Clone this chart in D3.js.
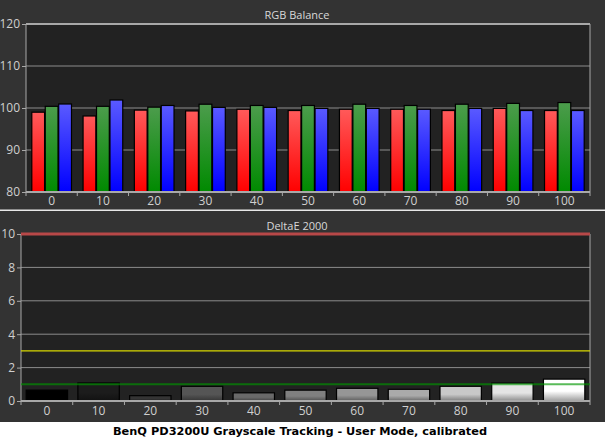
<!DOCTYPE html>
<html><head><meta charset="utf-8">
<script src="https://cdn.jsdelivr.net/npm/d3@7"></script>
<style>html,body{margin:0;padding:0;background:#fff;}svg{display:block;}</style>
</head><body>
<svg id="c" width="605" height="441"></svg>
<script>
const categories = ["0","10","20","30","40","50","60","70","80","90","100"];
const redValues   = [99.0, 98.1, 99.5, 99.3, 99.7, 99.4, 99.7, 99.7, 99.4, 99.9, 99.4];
const greenValues = [100.4, 100.4, 100.2, 100.9, 100.6, 100.6, 100.9, 100.6, 100.9, 101.1, 101.3];
const blueValues  = [100.95, 101.9, 100.6, 100.15, 100.15, 99.9, 99.9, 99.7, 99.9, 99.4, 99.4];
const rgbTicks = [80, 90, 100, 110, 120];
const deltaE = [0.65, 1.08, 0.32, 0.88, 0.49, 0.65, 0.76, 0.70, 0.88, 1.07, 1.31];
const deTicks = [0, 2, 4, 6, 8, 10];
const grayLevels = [0, 28, 52, 85, 105, 128, 150, 170, 200, 228, 255];
const refLines = [{v: 10, c: "#b84848", w: 3}, {v: 3, c: "#d8d800", w: 1.2}, {v: 1, c: "rgba(0,150,0,0.65)", w: 2}];

const svg = d3.select("#c");
const font = "'Open Sans', 'DejaVu Sans', sans-serif";

// backgrounds
svg.append("rect").attr("x",0).attr("y",0).attr("width",605).attr("height",422).attr("fill","#333333");
svg.append("rect").attr("x",0).attr("y",209.5).attr("width",605).attr("height",1.5).attr("fill","#e8e8e8");
svg.append("rect").attr("x",0).attr("y",422).attr("width",605).attr("height",19).attr("fill","#ffffff");

const defs = svg.append("defs");
function grad(id, top, bottom, mid) {
  const g = defs.append("linearGradient").attr("id", id).attr("x1",0).attr("y1",0).attr("x2",0).attr("y2",1);
  g.append("stop").attr("offset","0%").attr("stop-color", top);
  if (mid) g.append("stop").attr("offset","55%").attr("stop-color", mid);
  g.append("stop").attr("offset","100%").attr("stop-color", bottom);
}
grad("gR", "#ff5a5a", "#ff0000");
grad("gG", "#4c9c4c", "#008a00");
grad("gB", "#5a5aff", "#0000ff");

// ---------- Top chart ----------
const t = {l: 26, r: 590, t: 24, b: 192};
const x1 = d3.scaleBand().domain(categories).range([t.l, t.r]).paddingInner(0.2).paddingOuter(0.1);
const xs = d3.scaleBand().domain(["r","g","b"]).range([0, x1.bandwidth()]).padding(0.05);
const y1 = d3.scaleLinear().domain([80, 120]).range([t.b, t.t]);

svg.append("rect").attr("x", t.l).attr("y", t.t).attr("width", t.r - t.l).attr("height", t.b - t.t).attr("fill", "#222222");
svg.append("g").selectAll("line").data(rgbTicks.filter(d => d > 80 && d < 120)).join("line")
  .attr("x1", t.l).attr("x2", t.r).attr("y1", d => y1(d)).attr("y2", d => y1(d))
  .attr("stroke", "#8c8c8c").attr("stroke-width", 1);

const series = [{k:"r", v: redValues, f:"url(#gR)"}, {k:"g", v: greenValues, f:"url(#gG)"}, {k:"b", v: blueValues, f:"url(#gB)"}];
series.forEach(s => {
  svg.append("g").selectAll("rect").data(categories).join("rect")
    .attr("x", (d) => x1(d) + xs(s.k))
    .attr("width", xs.bandwidth())
    .attr("y", (d, i) => y1(s.v[i]))
    .attr("height", (d, i) => y1(80) - y1(s.v[i]))
    .attr("fill", s.f).attr("stroke", "#000").attr("stroke-width", 1.2);
});

// frame
svg.append("line").attr("x1", t.l).attr("x2", t.r).attr("y1", t.t).attr("y2", t.t).attr("stroke", "#a8a8a8").attr("stroke-width", 2);
svg.append("line").attr("x1", t.r).attr("x2", t.r).attr("y1", t.t).attr("y2", t.b).attr("stroke", "#a8a8a8").attr("stroke-width", 1);
svg.append("line").attr("x1", t.l).attr("x2", t.l).attr("y1", t.t).attr("y2", t.b).attr("stroke", "#a8a8a8").attr("stroke-width", 1);
svg.append("line").attr("x1", t.l).attr("x2", t.r).attr("y1", t.b).attr("y2", t.b).attr("stroke", "#a8a8a8").attr("stroke-width", 2);

// y axis
const yAx1 = svg.append("g").attr("transform", `translate(${t.l},0)`)
  .call(d3.axisLeft(y1).tickValues(rgbTicks).tickSize(4).tickPadding(2));
yAx1.select(".domain").remove();
yAx1.selectAll("line").attr("stroke", "#a8a8a8");
yAx1.selectAll("text").attr("fill", "#cfcfcf").style("font-family", font).style("font-size", "12px");

// x ticks (boundaries) and labels
const bounds1 = d3.range(categories.length + 1).map(i => t.l + i * x1.step() - (i === 0 ? 0 : x1.step()*0 ));
const step1 = (t.r - t.l) / categories.length;
svg.append("g").selectAll("line").data(d3.range(categories.length + 1)).join("line")
  .attr("x1", i => t.l + i * step1).attr("x2", i => t.l + i * step1)
  .attr("y1", t.b).attr("y2", t.b + 4).attr("stroke", "#a8a8a8");
svg.append("g").selectAll("text").data(categories).join("text")
  .attr("x", d => x1(d) + x1.bandwidth() / 2).attr("y", 205)
  .attr("text-anchor", "middle").attr("fill", "#cfcfcf")
  .style("font-family", font).style("font-size", "12px").text(d => d);

svg.append("text").attr("x", 297).attr("y", 19).attr("text-anchor", "middle")
  .attr("fill", "#d8d8d8").style("font-family", font).style("font-size", "11px").text("RGB Balance");

// ---------- Bottom chart ----------
const b = {l: 21, r: 590, t: 234, b: 401};
const x2 = d3.scaleBand().domain(categories).range([b.l, b.r]).paddingInner(0.2).paddingOuter(0.1);
const y2 = d3.scaleLinear().domain([0, 10]).range([b.b, b.t]);

svg.append("rect").attr("x", b.l).attr("y", b.t).attr("width", b.r - b.l).attr("height", b.b - b.t).attr("fill", "#222222");
svg.append("g").selectAll("line").data(deTicks.filter(d => d > 0 && d < 10)).join("line")
  .attr("x1", b.l).attr("x2", b.r).attr("y1", d => y2(d)).attr("y2", d => y2(d))
  .attr("stroke", "#8c8c8c").attr("stroke-width", 1);

grayLevels.forEach((g, i) => {
  const c = d3.rgb(g, g, g);
  const mid = d3.rgb(g, g, g);
  const bot = d3.rgb(g * 0.62, g * 0.62, g * 0.62);
  grad("gy" + i, c.formatHex(), bot.formatHex(), mid.formatHex());
});
svg.append("g").selectAll("rect").data(categories).join("rect")
  .attr("x", d => x2(d)).attr("width", x2.bandwidth())
  .attr("y", (d, i) => y2(deltaE[i]))
  .attr("height", (d, i) => y2(0) - y2(deltaE[i]))
  .attr("fill", (d, i) => `url(#gy${i})`).attr("stroke", "#000").attr("stroke-width", 1.2);

svg.append("line").attr("x1", b.r).attr("x2", b.r).attr("y1", b.t).attr("y2", b.b).attr("stroke", "#a8a8a8").attr("stroke-width", 1);
svg.append("line").attr("x1", b.l).attr("x2", b.l).attr("y1", b.t).attr("y2", b.b).attr("stroke", "#a8a8a8").attr("stroke-width", 1);
svg.append("line").attr("x1", b.l).attr("x2", b.r).attr("y1", b.b).attr("y2", b.b).attr("stroke", "#a8a8a8").attr("stroke-width", 2);

svg.append("g").selectAll("line").data(refLines).join("line")
  .attr("x1", b.l).attr("x2", b.r).attr("y1", d => y2(d.v)).attr("y2", d => y2(d.v))
  .attr("stroke", d => d.c).attr("stroke-width", d => d.w);

const yAx2 = svg.append("g").attr("transform", `translate(${b.l},0)`)
  .call(d3.axisLeft(y2).tickValues(deTicks).tickSize(4).tickPadding(2));
yAx2.select(".domain").remove();
yAx2.selectAll("line").attr("stroke", "#a8a8a8");
yAx2.selectAll("text").attr("fill", "#cfcfcf").style("font-family", font).style("font-size", "12px");

const step2 = (b.r - b.l) / categories.length;
svg.append("g").selectAll("line").data(d3.range(categories.length + 1)).join("line")
  .attr("x1", i => b.l + i * step2).attr("x2", i => b.l + i * step2)
  .attr("y1", b.b).attr("y2", b.b + 4).attr("stroke", "#a8a8a8");
svg.append("g").selectAll("text").data(categories).join("text")
  .attr("x", d => x2(d) + x2.bandwidth() / 2).attr("y", 415)
  .attr("text-anchor", "middle").attr("fill", "#cfcfcf")
  .style("font-family", font).style("font-size", "12px").text(d => d);

svg.append("text").attr("x", 297).attr("y", 230).attr("text-anchor", "middle")
  .attr("fill", "#d8d8d8").style("font-family", font).style("font-size", "11px").text("DeltaE 2000");

// caption
const cap = svg.append("text").attr("x", 300).attr("y", 435).attr("text-anchor", "middle")
  .attr("fill", "#000").style("font-family", "'DejaVu Sans', sans-serif").style("font-weight", "bold")
  .style("font-size", "13px").text("BenQ PD3200U Grayscale Tracking - User Mode, calibrated");
const w = cap.node().getComputedTextLength();
cap.style("font-size", (13 * 374 / w).toFixed(2) + "px");
</script>
</body></html>
